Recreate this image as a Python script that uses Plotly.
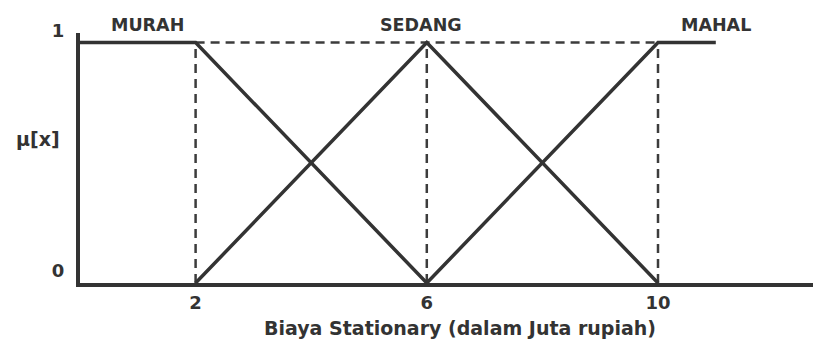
import plotly.graph_objects as go

# Fuzzy membership breakpoints (Biaya Stationary, juta rupiah)
murah_x = [0, 2, 6]
murah_y = [1, 1, 0]
sedang_x = [2, 6, 10]
sedang_y = [0, 1, 0]
mahal_x = [6, 10, 11]
mahal_y = [0, 1, 1]
set_names = ["MURAH", "SEDANG", "MAHAL"]
set_label_x = [1.16, 5.9, 11.0]

x_ticks = [2, 6, 10]
x_tick_labels = ["2", "6", "10"]
y_ticks = [0, 1]
y_tick_labels = ["0", "1"]
x_title = "Biaya Stationary (dalam Juta rupiah)"
y_title = "µ[x]"

FONT = "DejaVu Sans"
LINE = "#333333"
DASH = "#3c3c3c"
TXT = "#333333"

fig = go.Figure()

# dashed guide lines: verticals at breakpoints, horizontal at mu=1
gx, gy = [], []
for v in x_ticks:
    gx += [v, v, None]
    gy += [0, 1, None]
gx += [x_ticks[0], x_ticks[-1], None]
gy += [1, 1, None]
fig.add_trace(go.Scatter(x=gx, y=gy, mode="lines",
                         line=dict(color=DASH, width=2.5, dash="9px,6px"),
                         hoverinfo="skip", showlegend=False))

for xs, ys in [(murah_x, murah_y), (sedang_x, sedang_y), (mahal_x, mahal_y)]:
    fig.add_trace(go.Scatter(x=xs, y=ys, mode="lines",
                             line=dict(color=LINE, width=3.5),
                             showlegend=False))

for name, lx in zip(set_names, set_label_x):
    fig.add_annotation(x=lx, y=1, text="<b>" + name + "</b>", showarrow=False,
                       yanchor="bottom", yshift=6,
                       font=dict(family=FONT, size=17.5, color=TXT))

fig.add_annotation(x=0, xref="paper", y=0.6, text="<b>" + y_title + "</b>",
                   showarrow=False, xanchor="right", xshift=-18,
                   font=dict(family=FONT, size=19, color=TXT))

fig.add_annotation(x=0.513, xref="paper", y=0, yref="paper",
                   text="<b>" + x_title + "</b>", showarrow=False,
                   xanchor="center", yanchor="middle", yshift=-45,
                   font=dict(family=FONT, size=19, color=TXT))

fig.update_layout(
    width=813, height=333,
    margin=dict(l=72, r=0, t=25, b=58),
    paper_bgcolor="white", plot_bgcolor="white",
    xaxis=dict(range=[0, 12.82], showgrid=False, zeroline=False,
               showline=True, linewidth=4, linecolor=LINE,
               tickvals=x_ticks, ticktext=x_tick_labels, ticks="", ticklen=0,
               ticklabelstandoff=0,
               tickfont=dict(family=FONT, size=18, color=TXT, weight="bold")),
    yaxis=dict(range=[0, 1.04], showgrid=False, zeroline=False,
               showline=True, linewidth=4, linecolor=LINE,
               tickvals=y_ticks, ticktext=y_tick_labels, ticks="", ticklen=0,
               ticklabelshift=-12, ticklabelstandoff=8,
               tickfont=dict(family=FONT, size=18, color=TXT, weight="bold")),
)

fig.write_html("out.html")
